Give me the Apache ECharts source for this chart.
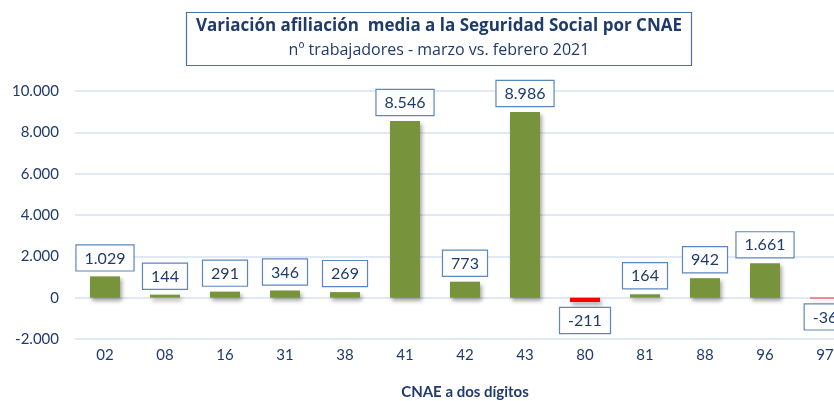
<!DOCTYPE html>
<html>
<head>
<meta charset="utf-8">
<script src="https://cdn.jsdelivr.net/npm/echarts@6/dist/echarts.min.js"></script>
<style>
  html, body { margin: 0; padding: 0; background: #fff; }
  #chart { width: 834px; height: 401px; }
</style>
</head>
<body>
<div id="chart"></div>
<script>
var categories = ['02', '08', '16', '31', '38', '41', '42', '43', '80', '81', '88', '96', '97'];
var values = [1029, 144, 291, 346, 269, 8546, 773, 8986, -211, 164, 942, 1661, -36];
var yTicks = { min: -2000, max: 10000, interval: 2000 };

var textColor = '#1F3B6B';
var fontName = 'Lato';

function fmt(v) {
    var s = Math.abs(v).toString().replace(/\B(?=(\d{3})+(?!\d))/g, '.');
    return (v < 0 ? '-' : '') + s;
}

var barData = values.map(function (v) {
    return {
        value: v,
        itemStyle: { color: v < 0 ? '#FF0000' : '#77933C' },
        label: { position: v < 0 ? 'bottom' : 'top' }
    };
});

var option = {
    backgroundColor: '#ffffff',
    textStyle: { fontFamily: fontName },
    title: {
        text: 'Variación afiliación  media a la Seguridad Social por CNAE',
        subtext: 'nº trabajadores - marzo vs. febrero 2021',
        left: 429,
        top: 12,
        padding: [6, 10, 8, 10],
        itemGap: 7,
        borderColor: '#4F6FA8',
        borderWidth: 1.2,
        textAlign: 'center',
        textStyle: { fontFamily: 'Open Sans', fontSize: 17, fontWeight: 'bold', color: textColor },
        subtextStyle: { fontFamily: 'Open Sans', fontSize: 16, color: textColor }
    },
    grid: { left: 75, top: 91, width: 780, height: 248, containLabel: false, outerBoundsMode: 'none' },
    xAxis: {
        type: 'category',
        data: categories,
        name: 'CNAE a dos dígitos',
        nameLocation: 'middle',
        nameGap: 46,
        nameTextStyle: { fontFamily: fontName, fontSize: 15, fontWeight: 'bold', color: textColor },
        axisLine: { show: false, onZero: false },
        axisTick: { show: false },
        axisLabel: { margin: 9, fontSize: 15, color: textColor, fontFamily: fontName }
    },
    yAxis: {
        type: 'value',
        min: yTicks.min,
        max: yTicks.max,
        interval: yTicks.interval,
        axisLine: { show: false },
        axisTick: { show: false },
        axisLabel: { margin: 16, fontSize: 15, color: textColor, fontFamily: fontName, formatter: fmt },
        splitLine: { lineStyle: { color: '#D6E2F1', width: 1.5 } }
    },
    series: [{
        type: 'bar',
        data: barData,
        barWidth: 30,
        itemStyle: {
            shadowBlur: 4,
            shadowOffsetX: 2,
            shadowOffsetY: 3,
            shadowColor: 'rgba(0,0,0,0.35)'
        },
        label: {
            show: true,
            distance: 6,
            formatter: function (p) { return fmt(p.value); },
            fontFamily: fontName,
            fontSize: 16,
            color: textColor,
            backgroundColor: '#ffffff',
            borderColor: '#5B86C0',
            borderWidth: 1.2,
            padding: [5, 8, 4, 8]
        }
    }]
};

var chart = echarts.init(document.getElementById('chart'));
chart.setOption(option);
</script>
</body>
</html>
